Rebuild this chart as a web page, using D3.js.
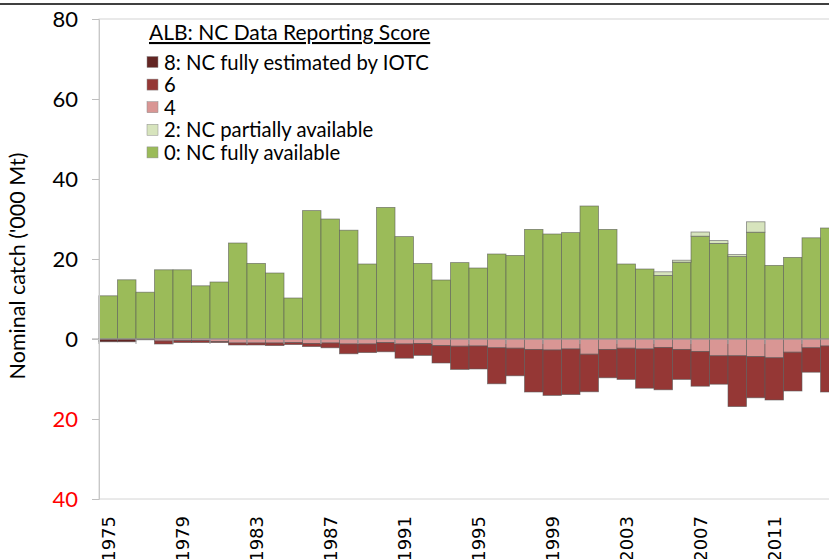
<!DOCTYPE html>
<html>
<head>
<meta charset="utf-8">
<script src="https://cdn.jsdelivr.net/npm/d3@7"></script>
<style>
  body { margin: 0; background: #fff; }
  svg { display: block; }
  .lbl { font-family: Lato, "Open Sans", sans-serif; }
  .xlbl { font-family: "DejaVu Sans", Verdana, sans-serif; }
</style>
</head>
<body>
<svg id="chart" width="829" height="559"></svg>
<script>
// ALB -- nominal catch by data reporting score

var years = d3.range(1975, 2015);

// 0: NC fully available
var score0 = [10.8, 14.8, 11.7, 17.3, 17.3, 13.3, 14.25, 24.0, 18.9, 16.5,
  10.25, 32.1, 30.0, 27.2, 18.75, 32.9, 25.6, 18.9, 14.75, 19.1,
  17.75, 21.25, 20.9, 27.4, 26.25, 26.6, 33.25, 27.4, 18.75, 17.5,
  15.9, 19.2, 25.7, 23.9, 20.6, 26.7, 18.4, 20.4, 25.3, 27.75];

// 2: NC partially available
var score2 = [0, 0, 0, 0, 0, 0, 0, 0, 0, 0,
  0, 0, 0, 0, 0, 0, 0, 0, 0, 0,
  0, 0, 0, 0, 0, 0, 0, 0, 0, 0,
  0.9, 0.5, 1.05, 0.7, 0.5, 2.6, 0, 0, 0, 0];

// 4 (drawn below zero)
var score4 = [0, 0, 0, 0.5, 0.4, 0.4, 0.6, 1.0, 1.0, 1.0,
  0.9, 1.1, 1.0, 1.25, 1.25, 0.9, 1.25, 1.1, 1.65, 1.8,
  1.75, 2.2, 2.3, 2.6, 2.75, 2.5, 3.8, 2.6, 2.3, 2.5,
  2.1, 2.6, 3.1, 4.2, 4.2, 4.4, 4.7, 3.3, 2.2, 1.75];

// 6 (drawn below zero)
var score6 = [0, 0, 0, 0.75, 0.5, 0.5, 0.3, 0.5, 0.5, 0.65,
  0.5, 0.8, 1.2, 2.45, 2.15, 2.3, 3.55, 3.0, 4.35, 5.8,
  5.75, 9.0, 6.9, 10.65, 11.35, 11.4, 9.4, 7.1, 7.8, 9.8,
  10.6, 7.5, 8.7, 7.1, 12.7, 10.3, 10.55, 9.7, 6.1, 11.5];

// 8: NC fully estimated by IOTC (drawn below zero)
var score8 = [0.7, 0.7, 0.2, 0, 0, 0, 0, 0, 0, 0,
  0, 0, 0, 0, 0, 0, 0, 0, 0, 0,
  0, 0, 0, 0, 0, 0, 0, 0, 0, 0,
  0, 0, 0, 0, 0, 0, 0, 0, 0, 0];

var yTicks = [-40, -20, 0, 20, 40, 60, 80];
var xLabelEvery = 4;

var seriesKeys = ["s0", "s2", "s4", "s6", "s8"];
var seriesNames = {
  s8: "8: NC fully estimated by IOTC",
  s6: "6",
  s4: "4",
  s2: "2: NC partially available",
  s0: "0: NC fully available"
};
var seriesColors = {
  s0: "#9bbb59",
  s2: "#d7e4bd",
  s4: "#d99694",
  s6: "#953735",
  s8: "#632523"
};
var legendOrder = ["s8", "s6", "s4", "s2", "s0"];

///////////////////////////////////////////////////////////////////////////////
// Scales

var svg = d3.select("#chart");

var plot = { left: 99, top: 19, bottom: 499, right: 839 };

var x = d3.scaleBand()
  .domain(years)
  .range([plot.left, plot.right])
  .paddingInner(0)
  .paddingOuter(0);

var y = d3.scaleLinear()
  .domain([-40, 80])
  .range([plot.bottom, plot.top]);

var table = years.map(function (yr, i) {
  return {
    year: yr,
    s0: score0[i],
    s2: score2[i],
    s4: -score4[i],
    s6: -score6[i],
    s8: -score8[i]
  };
});

var stacked = d3.stack()
  .keys(seriesKeys)
  .offset(d3.stackOffsetDiverging)(table);

///////////////////////////////////////////////////////////////////////////////
// Frame

svg.append("line")
  .attr("x1", 0).attr("x2", 829)
  .attr("y1", 4).attr("y2", 4)
  .attr("stroke", "#000").attr("stroke-width", 1.5);

svg.append("rect")
  .attr("x", plot.left).attr("y", plot.top)
  .attr("width", plot.right - plot.left)
  .attr("height", plot.bottom - plot.top)
  .attr("fill", "none")
  .attr("stroke", "#d4d4d4");

///////////////////////////////////////////////////////////////////////////////
// Bars

svg.append("g").selectAll("g")
  .data(stacked)
  .join("g")
  .attr("fill", function (s) { return seriesColors[s.key]; })
  .selectAll("rect")
  .data(function (s) { return s.filter(function (d) { return d[1] !== d[0]; }); })
  .join("rect")
  .attr("x", function (d) { return x(d.data.year); })
  .attr("width", x.bandwidth())
  .attr("y", function (d) { return y(Math.max(d[0], d[1])); })
  .attr("height", function (d) { return Math.abs(y(d[0]) - y(d[1])); })
  .attr("stroke", "#5a5a5a")
  .attr("stroke-opacity", 0.7)
  .attr("stroke-width", 0.8);

// category axis sits on zero
svg.append("line")
  .attr("x1", plot.left - 7).attr("x2", plot.right)
  .attr("y1", y(0)).attr("y2", y(0))
  .attr("stroke", "#a6a6a6");

svg.append("g").selectAll("line")
  .data(years.filter(function (yr, i) { return i % 2 === 0; }))
  .join("line")
  .attr("x1", function (yr) { return x(yr); })
  .attr("x2", function (yr) { return x(yr); })
  .attr("y1", y(0)).attr("y2", y(0) + 5)
  .attr("stroke", "#a6a6a6");

///////////////////////////////////////////////////////////////////////////////
// Axes

var yAxis = svg.append("g")
  .attr("transform", "translate(" + plot.left + ",0)")
  .call(d3.axisLeft(y)
    .tickValues(yTicks)
    .tickSize(7)
    .tickPadding(14)
    .tickFormat(function (v) { return Math.abs(v); }));

yAxis.select(".domain").attr("stroke", "#c8c8c8");
yAxis.selectAll(".tick line").attr("stroke", "#bfbfbf");
yAxis.selectAll(".tick text")
  .attr("class", "lbl")
  .attr("font-size", 22)
  .attr("fill", function (v) { return v < 0 ? "#ff0000" : "#000"; });

svg.append("g").selectAll("text")
  .data(years.filter(function (yr, i) { return i % xLabelEvery === 0; }))
  .join("text")
  .attr("class", "xlbl")
  .attr("font-size", 18)
  .attr("text-anchor", "end")
  .attr("dy", "0.36em")
  .attr("transform", function (yr) {
    return "translate(" + (x(yr) + x.bandwidth() / 2) + "," + (plot.bottom + 17) + ") rotate(-90)";
  })
  .text(function (yr) { return yr; });

svg.append("text")
  .attr("class", "lbl")
  .attr("font-size", 21.5)
  .attr("text-anchor", "middle")
  .attr("transform", "translate(25,266) rotate(-90)")
  .text("Nominal catch ('000 Mt)");

///////////////////////////////////////////////////////////////////////////////
// Legend

var legend = svg.append("g").attr("class", "lbl");

legend.append("text")
  .attr("x", 149).attr("y", 40)
  .attr("font-size", 21)
  .attr("text-decoration", "underline")
  .text("ALB: NC Data Reporting Score");

var item = legend.selectAll("g.item")
  .data(legendOrder)
  .join("g")
  .attr("class", "item")
  .attr("transform", function (k, i) { return "translate(147," + (62 + i * 22.6) + ")"; });

item.append("rect")
  .attr("x", 0).attr("y", -5.5)
  .attr("width", 11).attr("height", 11)
  .attr("fill", function (k) { return seriesColors[k]; })
  .attr("stroke", "#8c8c8c")
  .attr("stroke-width", 0.5);

item.append("text")
  .attr("x", 17).attr("y", 7.5)
  .attr("font-size", 20.3)
  .text(function (k) { return seriesNames[k]; });
</script>
</body>
</html>
